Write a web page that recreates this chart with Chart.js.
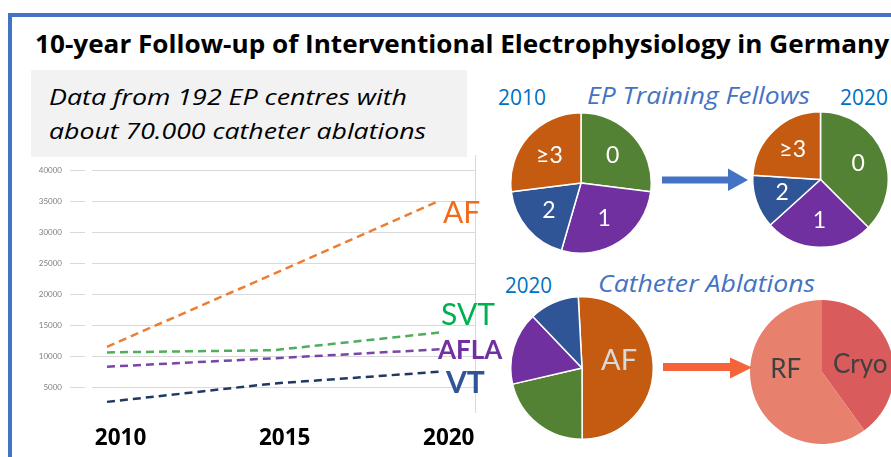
<!DOCTYPE html>
<html>
<head>
<meta charset="utf-8">
<script src="https://cdn.jsdelivr.net/npm/chart.js@4"></script>
<style>
  body { margin: 0; width: 891px; height: 457px; overflow: hidden; background: #fff; position: relative; font-family: "Open Sans", sans-serif; }
  .abs { position: absolute; white-space: nowrap; }
  .txt { line-height: 1; transform-origin: 0 50%; }
  #frame { left: 8px; top: 13px; width: 900px; height: 460px; border-left: 4px solid #4472c4; border-top: 4px solid #4472c4; }
  #title { left: 35px; top: 31px; font-size: 25.6px; font-weight: bold; color: #000; }
  #note { left: 31px; top: 70px; width: 436px; height: 87px; background: #f2f2f2; }
  .note { left: 49px; font-size: 22.4px; font-style: italic; color: #000; }
  .year { font-size: 21px; color: #0070c0; }
  .head { font-style: italic; color: #4472c4; }
  #vline { left: 475px; top: 155px; width: 1px; height: 258px; background: #d9d9d9; }
  canvas { position: absolute; }
</style>
</head>
<body>
<div id="frame" class="abs"></div>
<div id="title" class="abs txt" data-w="854">10-year Follow-up of Interventional Electrophysiology in Germany</div>
<div id="note" class="abs"></div>
<div class="abs txt note" style="top:86px" data-w="358">Data from 192 EP centres with</div>
<div class="abs txt note" style="top:119.5px" data-w="377">about 70.000 catheter ablations</div>

<div id="vline" class="abs"></div>
<canvas id="trend" width="490" height="307" style="left:14px;top:150px"></canvas>

<div class="abs txt year" style="left:498px;top:86.5px" data-w="48">2010</div>
<div class="abs txt head" style="left:587px;top:84.2px;font-size:23.4px" data-w="223">EP Training Fellows</div>
<div class="abs txt year" style="left:840px;top:86.5px" data-w="48">2020</div>
<canvas id="fellows2010" width="142" height="142" style="left:510px;top:112px"></canvas>
<canvas id="fellows2020" width="137" height="137" style="left:752px;top:111px"></canvas>

<div class="abs txt year" style="left:505px;top:274.7px" data-w="47">2020</div>
<div class="abs txt head" style="left:598px;top:270.8px;font-size:24.2px" data-w="217">Catheter Ablations</div>
<canvas id="ablations" width="144" height="144" style="left:510px;top:296px"></canvas>
<canvas id="energy" width="144" height="144" style="left:750px;top:300px"></canvas>

<svg class="abs" style="left:0;top:0" width="891" height="457">
  <polygon fill="#4472c4" points="662,176.5 728,176.5 728,168.5 748,180 728,191 728,183.5 662,183.5"/>
  <polygon fill="#f5633a" points="663,363 730,363 730,357.5 752,367.5 730,378.5 730,371 663,371"/>
</svg>

<script>
// ---- line chart data ----
const years = [2010, 2015, 2020];
const afCases = [11600, 23300, 35100];
const svtCases = [10700, 11050, 13900];
const aflaCases = [8400, 9750, 11200];
const vtCases = [2750, 5700, 7600];
const yTickValues = [5000, 10000, 15000, 20000, 25000, 30000, 35000, 40000];
const xTickLabels = [2010, 2015, 2020];

// ---- pie data ----
const fellowLabels = ['0', '1', '2', '≥3'];
const fellows2010 = [27, 27.5, 18.5, 27];
const fellows2020 = [37.5, 25.8, 12.7, 24];
const ablationLabels = ['AF', 'SVT', 'AFLA', 'VT'];
const ablations2020 = [50.8, 21.4, 16.5, 11.3];
const energyLabels = ['Cryo', 'RF'];
const energyShare = [40, 60];

// stretch the html captions to the widths they have in the slide
function fitCaptions() {
  document.querySelectorAll('[data-w]').forEach(el => {
    el.style.transform = 'none';
    const w = el.getBoundingClientRect().width;
    el.style.transform = 'scaleX(' + (+el.dataset.w / w) + ')';
  });
}
fitCaptions();
document.fonts.ready.then(fitCaptions);

Chart.defaults.font.family = 'Lato, sans-serif';
Chart.defaults.animation = false;
Chart.defaults.plugins.legend.display = false;
Chart.defaults.plugins.tooltip.enabled = false;

const pts = arr => arr.map((v, i) => ({ x: years[i], y: v }));

// text next to the last point of each line
const endLabels = {
  id: 'endLabels',
  afterDatasetsDraw(chart, args, opts) {
    const ctx = chart.ctx;
    chart.data.datasets.forEach((ds, i) => {
      const st = opts.styles[i];
      const pt = chart.getDatasetMeta(i).data[ds.data.length - 1];
      ctx.save();
      ctx.font = st.font;
      ctx.fillStyle = st.color;
      ctx.textBaseline = 'alphabetic';
      ctx.fillText(ds.label, pt.x + st.dx, pt.y + st.dy);
      ctx.restore();
    });
  }
};

new Chart(document.getElementById('trend'), {
  type: 'line',
  data: {
    datasets: [
      { label: 'AF', data: pts(afCases), borderColor: '#ed7d31' },
      { label: 'SVT', data: pts(svtCases), borderColor: '#4fad5b' },
      { label: 'AFLA', data: pts(aflaCases), borderColor: '#7a45a8' },
      { label: 'VT', data: pts(vtCases), borderColor: '#203864' }
    ]
  },
  options: {
    responsive: false,
    devicePixelRatio: 1,
    layout: { padding: { top: 20, right: 29, left: 0, bottom: 0 } },
    elements: {
      line: { borderWidth: 2.5, borderDash: [8, 5], tension: 0, fill: false },
      point: { radius: 0 }
    },
    scales: {
      x: { type: 'linear', min: 2009.55, max: 2021.05, display: false },
      xl: {
        type: 'linear', position: 'bottom', min: 2009.13, max: 2020.8,
        afterBuildTicks: s => { s.ticks = xTickLabels.map(v => ({ value: v })); },
        afterFit: s => { s.height = 38; },
        grid: { display: false, drawTicks: false },
        border: { display: false },
        ticks: { padding: 6, color: '#000', font: { family: '"Open Sans", sans-serif', size: 22.5, weight: 'bold' }, callback: v => String(v) }
      },
      y: {
        min: 0, max: 40000,
        afterBuildTicks: s => { s.ticks = yTickValues.map(v => ({ value: v })); },
        afterFit: s => { s.width = 78; },
        border: { display: false },
        grid: { color: '#d9d9d9', tickColor: '#d9d9d9', tickLength: 22, tickBorderDash: [15, 7] },
        ticks: { padding: 8, color: '#7f7f7f', font: { size: 8 }, callback: v => String(v) }
      }
    },
    plugins: {
      endLabels: {
        styles: [
          { font: '30px Lato', color: '#f26b1d', dx: 3, dy: 22.6 },
          { font: '30px Lato', color: '#00b050', dx: 1, dy: -7.3 },
          { font: 'bold 26px Lato', color: '#7030a0', dx: -2, dy: 9.3 },
          { font: 'bold 30px Lato', color: '#2f5597', dx: 6, dy: 21.6 }
        ]
      }
    }
  },
  plugins: [endLabels]
});

// labels inside pie slices
const sliceLabels = {
  id: 'sliceLabels',
  afterDatasetsDraw(chart, args, opts) {
    const ctx = chart.ctx;
    const arcs = chart.getDatasetMeta(0).data;
    arcs.forEach((arc, i) => {
      if (opts.show && !opts.show[i]) return;
      const mid = (arc.startAngle + arc.endAngle) / 2;
      const r = arc.outerRadius * opts.factor;
      const nudge = (opts.nudges && opts.nudges[i]) || [0, 0];
      ctx.save();
      ctx.font = opts.font;
      ctx.fillStyle = opts.color;
      ctx.textAlign = 'center';
      ctx.textBaseline = 'middle';
      ctx.fillText(chart.data.labels[i], arc.x + Math.cos(mid) * r + nudge[0], arc.y + Math.sin(mid) * r + nudge[1]);
      ctx.restore();
    });
  }
};

const officeColors = ['#548235', '#7030a0', '#2f5597', '#c55a11'];

function makePie(id, labels, values, colors, extra) {
  return new Chart(document.getElementById(id), {
    type: 'pie',
    data: { labels: labels, datasets: [{ data: values, backgroundColor: colors, borderColor: '#fff', borderWidth: extra.border }] },
    options: {
      responsive: false,
      devicePixelRatio: 1,
      rotation: extra.rotation || 0,
      layout: { padding: 0 },
      plugins: { sliceLabels: extra.labels }
    },
    plugins: [sliceLabels]
  });
}

makePie('fellows2010', fellowLabels, fellows2010, officeColors, {
  border: 1.5,
  labels: { factor: 0.6, font: '23px Lato', color: '#fff' }
});
makePie('fellows2020', fellowLabels, fellows2020, officeColors, {
  border: 1.5,
  labels: { factor: 0.6, font: '23px Lato', color: '#fff' }
});
makePie('ablations', ablationLabels, ablations2020, ['#c55a11', '#548235', '#7030a0', '#2f5597'], {
  border: 1.5, rotation: -3,
  labels: { factor: 0.52, font: '29px Lato', color: '#d9d9d9', show: [true, false, false, false], nudges: [[0, -6]] }
});
makePie('energy', energyLabels, energyShare, ['#d95b5b', '#e8806e'], {
  border: 0,
  labels: { factor: 0.5, font: '26px Lato', color: '#404040', nudges: [[4, 4], [-2, -14]] }
});
</script>
</body>
</html>
